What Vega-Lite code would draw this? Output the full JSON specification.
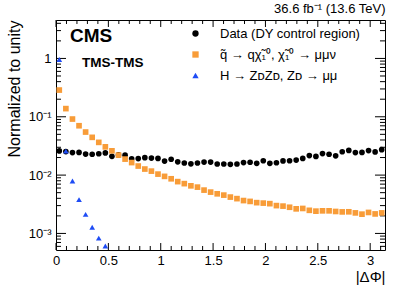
{
  "$schema": "https://vega.github.io/schema/vega-lite/v6.json",
  "width": 329,
  "height": 230,
  "autosize": "none",
  "padding": {"left": 56, "top": 20, "right": 17, "bottom": 39},
  "background": "white",
  "config": {
    "font": "Liberation Sans",
    "view": {"stroke": "black", "strokeWidth": 1},
    "axis": {
      "grid": false,
      "domain": false,
      "ticks": false,
      "labelColor": "black",
      "titleColor": "black",
      "labelFont": "Liberation Sans",
      "titleFont": "Liberation Sans",
      "titleFontWeight": "normal",
      "labelFontSize": 13,
      "titleFontSize": 15,
      "labelOverlap": false,
      "labelFlush": false
    },
    "legend": {
      "orient": "none",
      "legendX": 133,
      "legendY": 7,
      "padding": 0,
      "labelFont": "Liberation Sans",
      "labelFontSize": 13,
      "labelColor": "black",
      "symbolSize": 40,
      "symbolStrokeWidth": 0,
      "rowPadding": 7,
      "labelOffset": 18,
      "labelLimit": 300
    }
  },
  "datasets": {
    "xmaj": [{"v": 0}, {"v": 0.5}, {"v": 1}, {"v": 1.5}, {"v": 2}, {"v": 2.5}, {"v": 3}],
    "xmin": [{"v": 0.1}, {"v": 0.2}, {"v": 0.3}, {"v": 0.4}, {"v": 0.6}, {"v": 0.7}, {"v": 0.8}, {"v": 0.9}, {"v": 1.1}, {"v": 1.2}, {"v": 1.3}, {"v": 1.4}, {"v": 1.6}, {"v": 1.7}, {"v": 1.8}, {"v": 1.9}, {"v": 2.1}, {"v": 2.2}, {"v": 2.3}, {"v": 2.4}, {"v": 2.6}, {"v": 2.7}, {"v": 2.8}, {"v": 2.9}, {"v": 3.1}],
    "ymaj": [{"v": 0.001}, {"v": 0.01}, {"v": 0.1}, {"v": 1}],
    "ymin": [{"v": 0.0006}, {"v": 0.0007}, {"v": 0.0008}, {"v": 0.0009}, {"v": 0.002}, {"v": 0.003}, {"v": 0.004}, {"v": 0.005}, {"v": 0.006}, {"v": 0.007}, {"v": 0.008}, {"v": 0.009}, {"v": 0.02}, {"v": 0.03}, {"v": 0.04}, {"v": 0.05}, {"v": 0.06}, {"v": 0.07}, {"v": 0.08}, {"v": 0.09}, {"v": 0.2}, {"v": 0.3}, {"v": 0.4}, {"v": 0.5}, {"v": 0.6}, {"v": 0.7}, {"v": 0.8}, {"v": 0.9}, {"v": 2}, {"v": 3}, {"v": 4}],
    "pts": [
      {"x": 0.0314, "y": 0.0260, "s": "Data (DY control region)"},
      {"x": 0.0942, "y": 0.0253, "s": "Data (DY control region)"},
      {"x": 0.1571, "y": 0.0243, "s": "Data (DY control region)"},
      {"x": 0.2199, "y": 0.0245, "s": "Data (DY control region)"},
      {"x": 0.2827, "y": 0.0229, "s": "Data (DY control region)"},
      {"x": 0.3456, "y": 0.0228, "s": "Data (DY control region)"},
      {"x": 0.4084, "y": 0.0232, "s": "Data (DY control region)"},
      {"x": 0.4712, "y": 0.0240, "s": "Data (DY control region)"},
      {"x": 0.5341, "y": 0.0210, "s": "Data (DY control region)"},
      {"x": 0.5969, "y": 0.0222, "s": "Data (DY control region)"},
      {"x": 0.6597, "y": 0.0220, "s": "Data (DY control region)"},
      {"x": 0.7226, "y": 0.0190, "s": "Data (DY control region)"},
      {"x": 0.7854, "y": 0.0192, "s": "Data (DY control region)"},
      {"x": 0.8482, "y": 0.0199, "s": "Data (DY control region)"},
      {"x": 0.9111, "y": 0.0196, "s": "Data (DY control region)"},
      {"x": 0.9739, "y": 0.0193, "s": "Data (DY control region)"},
      {"x": 1.0367, "y": 0.0174, "s": "Data (DY control region)"},
      {"x": 1.0996, "y": 0.0187, "s": "Data (DY control region)"},
      {"x": 1.1624, "y": 0.0169, "s": "Data (DY control region)"},
      {"x": 1.2252, "y": 0.0161, "s": "Data (DY control region)"},
      {"x": 1.2881, "y": 0.0156, "s": "Data (DY control region)"},
      {"x": 1.3509, "y": 0.0161, "s": "Data (DY control region)"},
      {"x": 1.4137, "y": 0.0167, "s": "Data (DY control region)"},
      {"x": 1.4765, "y": 0.0167, "s": "Data (DY control region)"},
      {"x": 1.5394, "y": 0.0155, "s": "Data (DY control region)"},
      {"x": 1.6022, "y": 0.0155, "s": "Data (DY control region)"},
      {"x": 1.6650, "y": 0.0153, "s": "Data (DY control region)"},
      {"x": 1.7279, "y": 0.0155, "s": "Data (DY control region)"},
      {"x": 1.7907, "y": 0.0164, "s": "Data (DY control region)"},
      {"x": 1.8535, "y": 0.0166, "s": "Data (DY control region)"},
      {"x": 1.9164, "y": 0.0159, "s": "Data (DY control region)"},
      {"x": 1.9792, "y": 0.0176, "s": "Data (DY control region)"},
      {"x": 2.0420, "y": 0.0159, "s": "Data (DY control region)"},
      {"x": 2.1049, "y": 0.0163, "s": "Data (DY control region)"},
      {"x": 2.1677, "y": 0.0175, "s": "Data (DY control region)"},
      {"x": 2.2305, "y": 0.0176, "s": "Data (DY control region)"},
      {"x": 2.2934, "y": 0.0181, "s": "Data (DY control region)"},
      {"x": 2.3562, "y": 0.0193, "s": "Data (DY control region)"},
      {"x": 2.4190, "y": 0.0216, "s": "Data (DY control region)"},
      {"x": 2.4819, "y": 0.0209, "s": "Data (DY control region)"},
      {"x": 2.5447, "y": 0.0234, "s": "Data (DY control region)"},
      {"x": 2.6075, "y": 0.0228, "s": "Data (DY control region)"},
      {"x": 2.6704, "y": 0.0214, "s": "Data (DY control region)"},
      {"x": 2.7332, "y": 0.0251, "s": "Data (DY control region)"},
      {"x": 2.7960, "y": 0.0265, "s": "Data (DY control region)"},
      {"x": 2.8588, "y": 0.0243, "s": "Data (DY control region)"},
      {"x": 2.9217, "y": 0.0245, "s": "Data (DY control region)"},
      {"x": 2.9845, "y": 0.0263, "s": "Data (DY control region)"},
      {"x": 3.0473, "y": 0.0250, "s": "Data (DY control region)"},
      {"x": 3.1102, "y": 0.0273, "s": "Data (DY control region)"},
      {"x": 0.0314, "y": 0.287, "s": "q̃ → qχ̃₁⁰, χ̃₁⁰ → μμν"},
      {"x": 0.0942, "y": 0.138, "s": "q̃ → qχ̃₁⁰, χ̃₁⁰ → μμν"},
      {"x": 0.1571, "y": 0.0914, "s": "q̃ → qχ̃₁⁰, χ̃₁⁰ → μμν"},
      {"x": 0.2199, "y": 0.0702, "s": "q̃ → qχ̃₁⁰, χ̃₁⁰ → μμν"},
      {"x": 0.2827, "y": 0.0547, "s": "q̃ → qχ̃₁⁰, χ̃₁⁰ → μμν"},
      {"x": 0.3456, "y": 0.0444, "s": "q̃ → qχ̃₁⁰, χ̃₁⁰ → μμν"},
      {"x": 0.4084, "y": 0.0364, "s": "q̃ → qχ̃₁⁰, χ̃₁⁰ → μμν"},
      {"x": 0.4712, "y": 0.0305, "s": "q̃ → qχ̃₁⁰, χ̃₁⁰ → μμν"},
      {"x": 0.5341, "y": 0.0261, "s": "q̃ → qχ̃₁⁰, χ̃₁⁰ → μμν"},
      {"x": 0.5969, "y": 0.0220, "s": "q̃ → qχ̃₁⁰, χ̃₁⁰ → μμν"},
      {"x": 0.6597, "y": 0.0188, "s": "q̃ → qχ̃₁⁰, χ̃₁⁰ → μμν"},
      {"x": 0.7226, "y": 0.0164, "s": "q̃ → qχ̃₁⁰, χ̃₁⁰ → μμν"},
      {"x": 0.7854, "y": 0.0143, "s": "q̃ → qχ̃₁⁰, χ̃₁⁰ → μμν"},
      {"x": 0.8482, "y": 0.0127, "s": "q̃ → qχ̃₁⁰, χ̃₁⁰ → μμν"},
      {"x": 0.9111, "y": 0.0117, "s": "q̃ → qχ̃₁⁰, χ̃₁⁰ → μμν"},
      {"x": 0.9739, "y": 0.0104, "s": "q̃ → qχ̃₁⁰, χ̃₁⁰ → μμν"},
      {"x": 1.0367, "y": 0.00951, "s": "q̃ → qχ̃₁⁰, χ̃₁⁰ → μμν"},
      {"x": 1.0996, "y": 0.00865, "s": "q̃ → qχ̃₁⁰, χ̃₁⁰ → μμν"},
      {"x": 1.1624, "y": 0.00773, "s": "q̃ → qχ̃₁⁰, χ̃₁⁰ → μμν"},
      {"x": 1.2252, "y": 0.00714, "s": "q̃ → qχ̃₁⁰, χ̃₁⁰ → μμν"},
      {"x": 1.2881, "y": 0.00655, "s": "q̃ → qχ̃₁⁰, χ̃₁⁰ → μμν"},
      {"x": 1.3509, "y": 0.00622, "s": "q̃ → qχ̃₁⁰, χ̃₁⁰ → μμν"},
      {"x": 1.4137, "y": 0.00553, "s": "q̃ → qχ̃₁⁰, χ̃₁⁰ → μμν"},
      {"x": 1.4765, "y": 0.00511, "s": "q̃ → qχ̃₁⁰, χ̃₁⁰ → μμν"},
      {"x": 1.5394, "y": 0.00478, "s": "q̃ → qχ̃₁⁰, χ̃₁⁰ → μμν"},
      {"x": 1.6022, "y": 0.00454, "s": "q̃ → qχ̃₁⁰, χ̃₁⁰ → μμν"},
      {"x": 1.6650, "y": 0.00420, "s": "q̃ → qχ̃₁⁰, χ̃₁⁰ → μμν"},
      {"x": 1.7279, "y": 0.00395, "s": "q̃ → qχ̃₁⁰, χ̃₁⁰ → μμν"},
      {"x": 1.7907, "y": 0.00366, "s": "q̃ → qχ̃₁⁰, χ̃₁⁰ → μμν"},
      {"x": 1.8535, "y": 0.00354, "s": "q̃ → qχ̃₁⁰, χ̃₁⁰ → μμν"},
      {"x": 1.9164, "y": 0.00337, "s": "q̃ → qχ̃₁⁰, χ̃₁⁰ → μμν"},
      {"x": 1.9792, "y": 0.00331, "s": "q̃ → qχ̃₁⁰, χ̃₁⁰ → μμν"},
      {"x": 2.0420, "y": 0.00324, "s": "q̃ → qχ̃₁⁰, χ̃₁⁰ → μμν"},
      {"x": 2.1049, "y": 0.00300, "s": "q̃ → qχ̃₁⁰, χ̃₁⁰ → μμν"},
      {"x": 2.1677, "y": 0.00294, "s": "q̃ → qχ̃₁⁰, χ̃₁⁰ → μμν"},
      {"x": 2.2305, "y": 0.00281, "s": "q̃ → qχ̃₁⁰, χ̃₁⁰ → μμν"},
      {"x": 2.2934, "y": 0.00264, "s": "q̃ → qχ̃₁⁰, χ̃₁⁰ → μμν"},
      {"x": 2.3562, "y": 0.00268, "s": "q̃ → qχ̃₁⁰, χ̃₁⁰ → μμν"},
      {"x": 2.4190, "y": 0.00249, "s": "q̃ → qχ̃₁⁰, χ̃₁⁰ → μμν"},
      {"x": 2.4819, "y": 0.00241, "s": "q̃ → qχ̃₁⁰, χ̃₁⁰ → μμν"},
      {"x": 2.5447, "y": 0.00244, "s": "q̃ → qχ̃₁⁰, χ̃₁⁰ → μμν"},
      {"x": 2.6075, "y": 0.00244, "s": "q̃ → qχ̃₁⁰, χ̃₁⁰ → μμν"},
      {"x": 2.6704, "y": 0.00238, "s": "q̃ → qχ̃₁⁰, χ̃₁⁰ → μμν"},
      {"x": 2.7332, "y": 0.00234, "s": "q̃ → qχ̃₁⁰, χ̃₁⁰ → μμν"},
      {"x": 2.7960, "y": 0.00235, "s": "q̃ → qχ̃₁⁰, χ̃₁⁰ → μμν"},
      {"x": 2.8588, "y": 0.00225, "s": "q̃ → qχ̃₁⁰, χ̃₁⁰ → μμν"},
      {"x": 2.9217, "y": 0.00214, "s": "q̃ → qχ̃₁⁰, χ̃₁⁰ → μμν"},
      {"x": 2.9845, "y": 0.00229, "s": "q̃ → qχ̃₁⁰, χ̃₁⁰ → μμν"},
      {"x": 3.0473, "y": 0.00216, "s": "q̃ → qχ̃₁⁰, χ̃₁⁰ → μμν"},
      {"x": 3.1102, "y": 0.00225, "s": "q̃ → qχ̃₁⁰, χ̃₁⁰ → μμν"},
      {"x": 0.0314, "y": 0.96, "s": "H → ZᴅZᴅ, Zᴅ → μμ"},
      {"x": 0.0942, "y": 0.0258, "s": "H → ZᴅZᴅ, Zᴅ → μμ"},
      {"x": 0.1571, "y": 0.0079, "s": "H → ZᴅZᴅ, Zᴅ → μμ"},
      {"x": 0.2199, "y": 0.0038, "s": "H → ZᴅZᴅ, Zᴅ → μμ"},
      {"x": 0.2827, "y": 0.00212, "s": "H → ZᴅZᴅ, Zᴅ → μμ"},
      {"x": 0.3456, "y": 0.00128, "s": "H → ZᴅZᴅ, Zᴅ → μμ"},
      {"x": 0.4084, "y": 0.00083, "s": "H → ZᴅZᴅ, Zᴅ → μμ"},
      {"x": 0.4712, "y": 0.00061, "s": "H → ZᴅZᴅ, Zᴅ → μμ"}
    ]
  },
  "resolve": {"axis": {"x": "independent", "y": "independent"}},
  "layer": [
    {
      "data": {"name": "xmaj"},
      "mark": {"type": "rule", "color": "black", "strokeWidth": 1},
      "encoding": {
        "x": {"field": "v", "type": "quantitative", "scale": {"domain": [0, 3.14159], "nice": false, "zero": false}, "axis": null},
        "y": {"datum": 0.00052, "type": "quantitative", "scale": {"type": "log", "domain": [0.00052, 4.56], "nice": false}, "axis": null},
        "y2": {"datum": 0.000685}
      }
    },
    {
      "data": {"name": "xmaj"},
      "mark": {"type": "rule", "color": "black", "strokeWidth": 1},
      "encoding": {
        "x": {"field": "v", "type": "quantitative", "scale": {"domain": [0, 3.14159], "nice": false, "zero": false},
              "axis": {"orient": "top", "labels": false, "ticks": false, "domain": false,
                       "title": "36.6 fb⁻¹ (13.6 TeV)", "titleAnchor": "end", "titleFontSize": 13, "titlePadding": 5}},
        "y": {"datum": 3.46, "type": "quantitative", "scale": {"type": "log", "domain": [0.00052, 4.56], "nice": false}, "axis": null},
        "y2": {"datum": 4.56}
      }
    },
    {
      "data": {"name": "xmin"},
      "mark": {"type": "rule", "color": "black", "strokeWidth": 1},
      "encoding": {
        "x": {"field": "v", "type": "quantitative", "scale": {"domain": [0, 3.14159], "nice": false, "zero": false}, "axis": null},
        "y": {"datum": 0.00052, "type": "quantitative", "scale": {"type": "log", "domain": [0.00052, 4.56], "nice": false}, "axis": null},
        "y2": {"datum": 0.000609}
      }
    },
    {
      "data": {"name": "xmin"},
      "mark": {"type": "rule", "color": "black", "strokeWidth": 1},
      "encoding": {
        "x": {"field": "v", "type": "quantitative", "scale": {"domain": [0, 3.14159], "nice": false, "zero": false}, "axis": null},
        "y": {"datum": 3.894, "type": "quantitative", "scale": {"type": "log", "domain": [0.00052, 4.56], "nice": false}, "axis": null},
        "y2": {"datum": 4.56}
      }
    },
    {
      "data": {"name": "ymaj"},
      "mark": {"type": "rule", "color": "black", "strokeWidth": 1},
      "encoding": {
        "y": {"field": "v", "type": "quantitative", "scale": {"type": "log", "domain": [0.00052, 4.56], "nice": false}, "axis": null},
        "x": {"datum": 0, "type": "quantitative", "scale": {"domain": [0, 3.14159], "nice": false, "zero": false}, "axis": null},
        "x2": {"datum": 0.0955}
      }
    },
    {
      "data": {"name": "ymaj"},
      "mark": {"type": "rule", "color": "black", "strokeWidth": 1},
      "encoding": {
        "y": {"field": "v", "type": "quantitative", "scale": {"type": "log", "domain": [0.00052, 4.56], "nice": false}, "axis": null},
        "x": {"datum": 3.0461, "type": "quantitative", "scale": {"domain": [0, 3.14159], "nice": false, "zero": false}, "axis": null},
        "x2": {"datum": 3.14159}
      }
    },
    {
      "data": {"name": "ymin"},
      "mark": {"type": "rule", "color": "black", "strokeWidth": 1},
      "encoding": {
        "y": {"field": "v", "type": "quantitative", "scale": {"type": "log", "domain": [0.00052, 4.56], "nice": false}, "axis": null},
        "x": {"datum": 0, "type": "quantitative", "scale": {"domain": [0, 3.14159], "nice": false, "zero": false}, "axis": null},
        "x2": {"datum": 0.0478}
      }
    },
    {
      "data": {"name": "ymin"},
      "mark": {"type": "rule", "color": "black", "strokeWidth": 1},
      "encoding": {
        "y": {"field": "v", "type": "quantitative", "scale": {"type": "log", "domain": [0.00052, 4.56], "nice": false}, "axis": null},
        "x": {"datum": 3.0938, "type": "quantitative", "scale": {"domain": [0, 3.14159], "nice": false, "zero": false}, "axis": null},
        "x2": {"datum": 3.14159}
      }
    },
    {
      "data": {"name": "pts"},
      "mark": {"type": "point", "filled": true, "opacity": 1, "size": 32, "clip": true},
      "encoding": {
        "x": {
          "field": "x", "type": "quantitative",
          "scale": {"domain": [0, 3.14159], "nice": false, "zero": false},
          "axis": {
            "orient": "bottom",
            "title": "|ΔΦ|",
            "titleAnchor": "end",
            "titlePadding": 2,
            "values": [0, 0.5, 1, 1.5, 2, 2.5, 3],
            "format": "~g",
            "labelPadding": 4
          }
        },
        "y": {
          "field": "y", "type": "quantitative",
          "scale": {"type": "log", "domain": [0.00052, 4.56], "nice": false},
          "axis": {
            "orient": "left",
            "title": "Normalized to unity",
            "titleAnchor": "end",
            "titleFontSize": 16,
            "titlePadding": 6,
            "values": [0.001, 0.01, 0.1, 1],
            "labelExpr": "datum.value == 1 ? '1' : datum.value == 0.1 ? '10⁻¹' : datum.value == 0.01 ? '10⁻²' : '10⁻³'",
            "labelPadding": 5
          }
        },
        "color": {
          "field": "s", "type": "nominal",
          "scale": {"domain": ["Data (DY control region)", "q̃ → qχ̃₁⁰, χ̃₁⁰ → μμν", "H → ZᴅZᴅ, Zᴅ → μμ"], "range": ["#000000", "#f89c38", "#1e4cf5"]},
          "legend": {"title": null}
        },
        "shape": {
          "field": "s", "type": "nominal",
          "scale": {"domain": ["Data (DY control region)", "q̃ → qχ̃₁⁰, χ̃₁⁰ → μμν", "H → ZᴅZᴅ, Zᴅ → μμ"], "range": ["circle", "square", "triangle-up"]},
          "legend": {"title": null}
        }
      }
    },
    {
      "data": {"values": [{}]},
      "mark": {"type": "text", "text": "CMS", "font": "Liberation Sans", "fontWeight": "bold", "fontSize": 19, "align": "left", "baseline": "alphabetic", "color": "black"},
      "encoding": {
        "x": {"datum": 0.133, "type": "quantitative", "scale": {"domain": [0, 3.14159], "nice": false, "zero": false}, "axis": null},
        "y": {"datum": 1.91, "type": "quantitative", "scale": {"type": "log", "domain": [0.00052, 4.56], "nice": false}, "axis": null}
      }
    },
    {
      "data": {"values": [{}]},
      "mark": {"type": "text", "text": "TMS-TMS", "font": "Liberation Sans", "fontWeight": "bold", "fontSize": 13.5, "align": "left", "baseline": "alphabetic", "color": "black"},
      "encoding": {
        "x": {"datum": 0.248, "type": "quantitative", "scale": {"domain": [0, 3.14159], "nice": false, "zero": false}, "axis": null},
        "y": {"datum": 0.713, "type": "quantitative", "scale": {"type": "log", "domain": [0.00052, 4.56], "nice": false}, "axis": null}
      }
    }
  ]
}
